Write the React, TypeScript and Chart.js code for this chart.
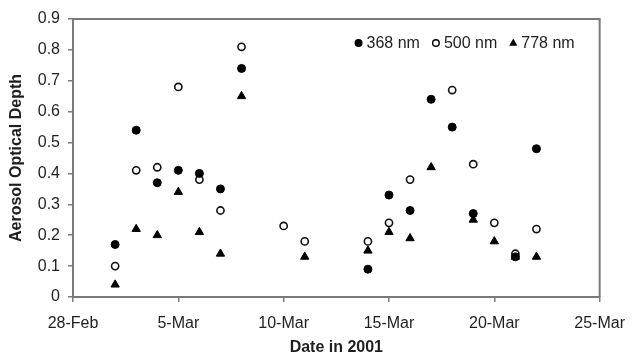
import React, { useEffect, useRef } from "react";
import { Chart, registerables } from "chart.js";

Chart.register(...registerables);

// Days after 28-Feb-2001
const dayOffsets = [2, 3, 4, 5, 6, 7, 8, 10, 11, 14, 15, 16, 17, 18, 19, 20, 21, 22];
const aod368 = [0.17, 0.54, 0.37, 0.41, 0.40, 0.35, 0.74, null, null, 0.09, 0.33, 0.28, 0.64, 0.55, 0.27, null, 0.13, 0.48];
const aod500 = [0.10, 0.41, 0.42, 0.68, 0.38, 0.28, 0.81, 0.23, 0.18, 0.18, 0.24, 0.38, null, 0.67, 0.43, 0.24, 0.14, 0.22];
const aod778 = [0.04, 0.22, 0.20, 0.34, 0.21, 0.14, 0.65, null, 0.13, 0.15, 0.21, 0.19, 0.42, null, 0.25, 0.18, 0.13, 0.13];
const seriesLabels = ["368 nm", "500 nm", "778 nm"];
const xTickLabels = ["28-Feb", "5-Mar", "10-Mar", "15-Mar", "20-Mar", "25-Mar"];
const xTitle = "Date in 2001";
const yTitle = "Aerosol Optical Depth";

const toPoints = (vals: (number | null)[]) =>
  dayOffsets
    .map((d, i) => ({ x: d, y: vals[i] }))
    .filter((p) => p.y !== null);

const FONT = "Arial, 'Liberation Sans', sans-serif";
const AXIS_GRAY = "#7a7a7a";
const TEXT = "#1e1e1e";

const framePlugin = {
  id: "frame",
  afterDatasetsDraw(chart: any) {
    const { ctx, chartArea } = chart;
    ctx.save();
    ctx.strokeStyle = AXIS_GRAY;
    ctx.lineWidth = 2;
    ctx.beginPath();
    ctx.moveTo(chartArea.left, chartArea.top);
    ctx.lineTo(chartArea.right, chartArea.top);
    ctx.lineTo(chartArea.right, chartArea.bottom);
    ctx.stroke();
    ctx.restore();
  },
};

const insideLegend = {
  id: "insideLegend",
  afterDatasetsDraw(chart: any) {
    const { ctx, chartArea } = chart;
    ctx.save();
    ctx.font = `16px ${FONT}`;
    ctx.textBaseline = "middle";
    ctx.fillStyle = TEXT;
    const y = chartArea.top + 24;
    const markerToText = 8;
    const itemGap = 16;
    const widths = chart.data.datasets.map((ds: any) => ctx.measureText(ds.label).width);
    const total = widths.reduce((a: number, w: number) => a + markerToText + w, 0) + itemGap * (widths.length - 1);
    let x = chartArea.right - 25 - total;
    chart.data.datasets.forEach((ds: any, i: number) => {
      const mx = x;
      ctx.beginPath();
      if (ds.pointStyle === "triangle") {
        const r = 4.5;
        ctx.moveTo(mx, y - r);
        ctx.lineTo(mx + r * 0.9, y + r * 0.6);
        ctx.lineTo(mx - r * 0.9, y + r * 0.6);
        ctx.closePath();
        ctx.fillStyle = "#000";
        ctx.fill();
      } else {
        ctx.arc(mx, y, 3.3, 0, Math.PI * 2);
        ctx.fillStyle = ds.backgroundColor;
        ctx.fill();
        ctx.lineWidth = 1.4;
        ctx.strokeStyle = "#000";
        ctx.stroke();
      }
      ctx.fillStyle = TEXT;
      ctx.fillText(ds.label, mx + markerToText, y + 1);
      x += markerToText + widths[i] + itemGap;
    });
    ctx.restore();
  },
};

export default function App() {
  const ref = useRef<HTMLCanvasElement>(null);

  useEffect(() => {
    document.body.style.margin = "0";
    const canvas = ref.current;
    if (!canvas) return;
    const chart = new Chart(canvas, {
      type: "scatter",
      data: {
        datasets: [
          {
            label: seriesLabels[0],
            data: toPoints(aod368),
            pointStyle: "circle",
            backgroundColor: "#000",
            borderColor: "#000",
            borderWidth: 1,
            pointRadius: 4,
          },
          {
            label: seriesLabels[1],
            data: toPoints(aod500),
            pointStyle: "circle",
            backgroundColor: "#fff",
            borderColor: "#111",
            borderWidth: 1.6,
            pointRadius: 3.6,
          },
          {
            label: seriesLabels[2],
            data: toPoints(aod778),
            pointStyle: "triangle",
            backgroundColor: "#000",
            borderColor: "#000",
            borderWidth: 1,
            pointRadius: 4.8,
          },
        ] as any,
      },
      options: {
        animation: false,
        responsive: false,
        layout: { padding: { left: 0, right: 29, top: 19, bottom: 0 } },
        plugins: {
          legend: { display: false },
          tooltip: { enabled: false },
        },
        scales: {
          x: {
            type: "linear",
            min: 0,
            max: 25,
            afterFit: (s: any) => {
              s.height = 59;
            },
            afterBuildTicks: (s: any) => {
              s.ticks = xTickLabels.map((_, i) => ({ value: i * 5 }));
            },
            ticks: {
              autoSkip: false,
              maxRotation: 0,
              padding: 12,
              color: TEXT,
              font: { family: FONT, size: 16 },
              callback: (_v: any, i: number) => xTickLabels[i],
            },
            grid: {
              display: true,
              drawOnChartArea: false,
              drawTicks: true,
              tickLength: 5,
              color: AXIS_GRAY,
              lineWidth: 1.5,
            },
            border: { display: true, color: AXIS_GRAY, width: 2 },
            title: {
              display: true,
              text: xTitle,
              color: TEXT,
              font: { family: FONT, size: 16, weight: "bold", lineHeight: 1 },
              padding: { top: 0, bottom: 0 },
            },
          },
          y: {
            min: 0,
            max: 0.9,
            afterFit: (s: any) => {
              s.width = 73;
            },
            ticks: {
              stepSize: 0.1,
              padding: 8,
              color: TEXT,
              font: { family: FONT, size: 16 },
            },
            grid: {
              display: true,
              drawOnChartArea: false,
              drawTicks: true,
              tickLength: 5,
              color: AXIS_GRAY,
              lineWidth: 1.5,
            },
            border: { display: true, color: AXIS_GRAY, width: 2 },
            title: {
              display: true,
              text: yTitle,
              color: TEXT,
              font: { family: FONT, size: 16, weight: "bold", lineHeight: 1 },
              padding: { top: 9, bottom: 0 },
            },
          },
        },
      } as any,
      plugins: [framePlugin, insideLegend],
    });
    return () => chart.destroy();
  }, []);

  return (
    <div style={{ position: "absolute", left: 0, top: 0, width: 637, height: 356, background: "#fff" }}>
      <canvas ref={ref} width={637} height={356} />
    </div>
  );
}
